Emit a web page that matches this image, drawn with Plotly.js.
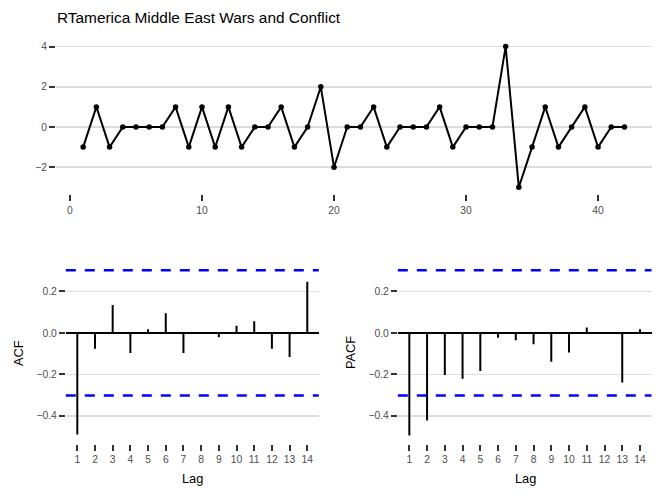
<!DOCTYPE html>
<html>
<head>
<meta charset="utf-8">
<script src="https://cdn.plot.ly/plotly-3.0.1.min.js"></script>
<style>html,body{margin:0;padding:0;background:#fff;}#chart{width:664px;height:498px;}</style>
</head>
<body>
<div id="chart"></div>
<script>
// ---- data ----
const chartTitle = "RTamerica Middle East Wars and Conflict";
const timeIndex = [1,2,3,4,5,6,7,8,9,10,11,12,13,14,15,16,17,18,19,20,21,22,23,24,25,26,27,28,29,30,31,32,33,34,35,36,37,38,39,40,41,42];
const seriesValues = [-1,1,-1,0,0,0,0,1,-1,1,-1,1,-1,0,0,1,-1,0,2,-2,0,0,1,-1,0,0,0,1,-1,0,0,0,4,-3,-1,1,-1,0,1,-1,0,0];
const lags = [1,2,3,4,5,6,7,8,9,10,11,12,13,14];
const acfValues = [-0.49,-0.077,0.134,-0.097,0.018,0.095,-0.097,-0.002,-0.021,0.035,0.056,-0.077,-0.116,0.247];
const pacfValues = [-0.495,-0.423,-0.203,-0.221,-0.184,-0.023,-0.035,-0.055,-0.139,-0.095,0.026,0.002,-0.239,0.018];
const ciBound = 0.302;
const timeTicks = [0,10,20,30,40];
const timeYTicks = [-2,0,2,4];
const corrYTicks = [-0.4,-0.2,0.0,0.2];
const corrYTickText = ["\u22120.4","\u22120.2","0.0","0.2"];

// ---- build stem segments from the data ----
function stems(xs, ys){
  const sx = [], sy = [];
  for (let i = 0; i < xs.length; i++){ sx.push(xs[i], xs[i], null); sy.push(0, ys[i], null); }
  return {x: sx, y: sy};
}
const acfSeg = stems(lags, acfValues);
const pacfSeg = stems(lags, pacfValues);

const FONT = "Liberation Sans, Arial, sans-serif";
const tickFont = {family: FONT, size: 10.3, color: "#4d4d4d"};
const gridColor = "#dcdcdc";

const traces = [
  {x: timeIndex, y: seriesValues, type: "scatter", mode: "lines+markers",
   line: {color: "#000", width: 2}, marker: {color: "#000", size: 5.5},
   xaxis: "x", yaxis: "y", hoverinfo: "skip"},
  {x: acfSeg.x, y: acfSeg.y, type: "scatter", mode: "lines",
   line: {color: "#000", width: 2}, xaxis: "x2", yaxis: "y2", hoverinfo: "skip"},
  {x: pacfSeg.x, y: pacfSeg.y, type: "scatter", mode: "lines",
   line: {color: "#000", width: 2}, xaxis: "x3", yaxis: "y3", hoverinfo: "skip"}
];

function xAx(domain, range, tickvals, anchor){
  return {domain: domain, range: range, tickmode: "array", tickvals: tickvals,
    showgrid: false, zeroline: false, showline: false, ticks: "outside",
    ticklen: 6, tickwidth: 2, tickcolor: "#333", tickfont: tickFont, anchor: anchor, fixedrange: true};
}
function yAx(domain, range, tickvals, ticktext, anchor, zl){
  const a = {domain: domain, range: range, tickmode: "array", tickvals: tickvals,
    showgrid: true, gridcolor: gridColor, gridwidth: 1.5, showline: false,
    ticks: "outside", ticklen: 6, tickwidth: 2, tickcolor: "#333",
    tickfont: tickFont, anchor: anchor, fixedrange: true,
    zeroline: zl, zerolinecolor: "#000", zerolinewidth: 2};
  if (ticktext) a.ticktext = ticktext;
  return a;
}

const yBot = [0.1088, 0.4739];
const layout = {
  width: 664, height: 498,
  margin: {l: 0, r: 0, t: 0, b: 0},
  paper_bgcolor: "#fff", plot_bgcolor: "#fff",
  showlegend: false,
  font: {family: FONT},
  title: {text: chartTitle, x: 57/664, xanchor: "left", xref: "paper",
          y: 1 - 18/498, yanchor: "middle", yref: "container",
          font: {family: FONT, size: 15.4, color: "#000"}},
  xaxis: xAx([0.0845, 0.9812], [-1.05, 44.05], timeTicks, "y"),
  yaxis: yAx([0.6098, 0.9205], [-3.35, 4.35], timeYTicks, ["\u22122","0","2","4"], "x", false),
  xaxis2: xAx([0.0991, 0.4801], [0.35, 14.65], lags, "y2"),
  yaxis2: yAx(yBot, [-0.535, 0.342], corrYTicks, corrYTickText, "x2", true),
  xaxis3: xAx([0.5991, 0.9812], [0.35, 14.65], lags, "y3"),
  yaxis3: yAx(yBot, [-0.535, 0.342], corrYTicks, corrYTickText, "x3", true),
  shapes: [
    {type: "line", xref: "x2 domain", yref: "y2", x0: 0, x1: 1, y0: ciBound, y1: ciBound, line: {color: "#0000ff", width: 2.5, dash: "10px,9px"}},
    {type: "line", xref: "x2 domain", yref: "y2", x0: 0, x1: 1, y0: -ciBound, y1: -ciBound, line: {color: "#0000ff", width: 2.5, dash: "10px,9px"}},
    {type: "line", xref: "x3 domain", yref: "y3", x0: 0, x1: 1, y0: ciBound, y1: ciBound, line: {color: "#0000ff", width: 2.5, dash: "10px,9px"}},
    {type: "line", xref: "x3 domain", yref: "y3", x0: 0, x1: 1, y0: -ciBound, y1: -ciBound, line: {color: "#0000ff", width: 2.5, dash: "10px,9px"}}
  ],
  annotations: [
    {text: "Lag", xref: "paper", yref: "paper", x: 192/664, y: 1 - 478/498, xanchor: "center", yanchor: "middle", showarrow: false, font: {family: FONT, size: 12.8, color: "#000"}},
    {text: "Lag", xref: "paper", yref: "paper", x: 525/664, y: 1 - 478/498, xanchor: "center", yanchor: "middle", showarrow: false, font: {family: FONT, size: 12.8, color: "#000"}},
    {text: "ACF", xref: "paper", yref: "paper", x: 18/664, y: 1 - 353/498, xanchor: "center", yanchor: "middle", textangle: -90, showarrow: false, font: {family: FONT, size: 12.8, color: "#000"}},
    {text: "PACF", xref: "paper", yref: "paper", x: 350/664, y: 1 - 353/498, xanchor: "center", yanchor: "middle", textangle: -90, showarrow: false, font: {family: FONT, size: 12.8, color: "#000"}}
  ]
};

Plotly.newPlot("chart", traces, layout, {staticPlot: true, displayModeBar: false});
</script>
</body>
</html>
